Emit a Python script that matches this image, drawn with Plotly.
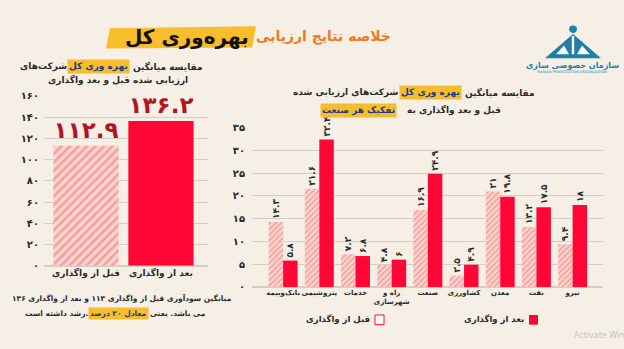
import plotly.graph_objects as go

W, H = 624, 349

# Overall total-productivity comparison (left panel)
overall_labels = ["قبل از واگذاری", "بعد از واگذاری"]
overall_values = [112.9, 136.2]
overall_ticks = [0, 20, 40, 60, 80, 100, 120, 140, 160]

# Per-industry comparison (right panel)
industries = ["بانک‌وبیمه", "پتروشیمی", "خدمات", "راه و<br>شهرسازی", "صنعت",
              "کشاورزی", "معدن", "نفت", "نیرو"]
before_values = [14.3, 21.6, 7.2, 4.8, 16.9, 2.5, 21, 13.2, 9.4]
after_values = [5.8, 32.4, 6.8, 6, 24.9, 4.9, 19.8, 17.5, 18]
industry_ticks = [0, 5, 10, 15, 20, 25, 30, 35]

FA_DIGITS = str.maketrans("0123456789", "۰۱۲۳۴۵۶۷۸۹")


def fa(v):
    return f"{v:g}".translate(FA_DIGITS)


def px(x):
    return x / W


def py(y):
    return 1 - y / H


FONT = "DejaVu Sans"
BG = "#f5efe5"
RED = "#ff0636"
HATCH_FG = "#f06a6c"
HATCH_BG = "#fcd6d1"
GRID = "#d3cec6"
DARK = "#2a2a2a"
NAVY = "#1b3a8a"
YELLOW = "#f8bd2a"
ORANGE = "#ef7a1c"
LOGO = "#1e7fa8"

fig = go.Figure()

# Left panel: overall average, one bar per period
hatched = dict(shape="/", bgcolor=HATCH_BG, fgcolor=HATCH_FG, size=6, solidity=0.45)
big_font = dict(family=FONT, size=23, color="#b3141f", weight=700)
fig.add_trace(go.Bar(
    x=[0], y=[overall_values[0]], width=0.87, offset=-0.435,
    marker=dict(color=HATCH_FG, pattern=hatched, line=dict(width=0)),
    text=[fa(overall_values[0])], textposition="outside", constraintext="none",
    cliponaxis=False, textfont=big_font, showlegend=False, xaxis="x", yaxis="y",
))
fig.add_trace(go.Bar(
    x=[1], y=[overall_values[1]], width=0.87, offset=-0.435,
    marker=dict(color=RED, line=dict(width=0)),
    text=[fa(overall_values[1])], textposition="outside", constraintext="none",
    cliponaxis=False, textfont=big_font, showlegend=False, xaxis="x", yaxis="y",
))

# Right panel: per industry
xi = list(range(len(industries)))
value_font = dict(family=FONT, size=9, color=DARK, weight=700)
fig.add_trace(go.Bar(
    x=xi, y=before_values, name="قبل از واگذاری",
    marker=dict(color=HATCH_FG,
                pattern=dict(shape="/", bgcolor=HATCH_BG, fgcolor=HATCH_FG, size=4, solidity=0.45),
                line=dict(width=0)),
    text=[fa(v) for v in before_values],
    textposition="outside", textangle=-90, constraintext="none", cliponaxis=False,
    textfont=value_font, showlegend=False, xaxis="x2", yaxis="y2",
))
fig.add_trace(go.Bar(
    x=xi, y=after_values, name="بعد از واگذاری",
    marker=dict(color=RED, line=dict(width=0)),
    text=[fa(v) for v in after_values],
    textposition="outside", textangle=-90, constraintext="none", cliponaxis=False,
    textfont=value_font, showlegend=False, xaxis="x2", yaxis="y2",
))

axis_font = dict(family=FONT, size=10, color=DARK, weight=700)

shapes = []
annotations = []


def text_width(s, size):
    return 0.56 * size * len(s)


def rtl_line(cx, y, segments, size, color=DARK):
    """Lay out a right-to-left line made of plain and highlighted segments."""
    gap = 0.55 * size
    total = sum(text_width(t, size) for t, _ in segments) + gap * (len(segments) - 1)
    cursor = cx + total / 2
    for t, hl in segments:
        d = dict(x=px(cursor), y=py(y), xref="paper", yref="paper", xanchor="right",
                 yanchor="middle", text=t, showarrow=False,
                 font=dict(family=FONT, size=size, color=NAVY if hl else color, weight=700))
        if hl:
            d.update(bgcolor=YELLOW, borderpad=1)
        annotations.append(d)
        cursor -= text_width(t, size) + gap


# Title brush and title
shapes.append(dict(type="path", xref="paper", yref="paper",
                   path=f"M {px(110)},{py(23)} L {px(256)},{py(21)} L {px(252)},{py(43)} L {px(106)},{py(44)} Z",
                   fillcolor=YELLOW, line=dict(width=0), layer="below"))
annotations.append(dict(x=px(254), y=py(32), xref="paper", yref="paper", xanchor="left", yanchor="middle",
                        text="خلاصه نتایج ارزیابی", showarrow=False,
                        font=dict(family=FONT, size=14, color=ORANGE, weight=700)))
annotations.append(dict(x=px(251), y=py(32), xref="paper", yref="paper", xanchor="right", yanchor="middle",
                        text="بهره‌وری کل", showarrow=False,
                        font=dict(family=FONT, size=20, color="#111111", weight=700)))

# Logo
shapes.append(dict(type="path", xref="paper", yref="paper",
                   path=f"M {px(545)},{py(54)} L {px(573)},{py(29)} L {px(601)},{py(54)} Z",
                   fillcolor=LOGO, line=dict(width=0)))
shapes.append(dict(type="circle", xref="paper", yref="paper",
                   x0=px(568.5), x1=px(577.5), y0=py(28.5), y1=py(19.5),
                   fillcolor=LOGO, line=dict(color=BG, width=1.2)))
shapes.append(dict(type="path", xref="paper", yref="paper",
                   path=f"M {px(571.8)},{py(31)} L {px(574.2)},{py(31)} L {px(574.2)},{py(50)} L {px(571.8)},{py(50)} Z",
                   fillcolor="white", line=dict(width=0)))
shapes.append(dict(type="path", xref="paper", yref="paper",
                   path=f"M {px(556)},{py(50)} L {px(564)},{py(41)} L {px(569)},{py(50)} Z",
                   fillcolor="white", line=dict(width=0)))
shapes.append(dict(type="path", xref="paper", yref="paper",
                   path=f"M {px(577)},{py(50)} L {px(582)},{py(41)} L {px(590)},{py(50)} Z",
                   fillcolor="white", line=dict(width=0)))
annotations.append(dict(x=px(572), y=py(62), xref="paper", yref="paper", xanchor="center", yanchor="middle",
                        text="سازمان خصوصی سازی", showarrow=False,
                        font=dict(family=FONT, size=8, color=LOGO, weight=700)))
annotations.append(dict(x=px(572), y=py(68.5), xref="paper", yref="paper", xanchor="center", yanchor="middle",
                        text="IRANIAN PRIVATIZATION ORGANIZATION", showarrow=False,
                        font=dict(family=FONT, size=3.5, color=LOGO)))

# Left panel subtitle
rtl_line(117, 63, [("مقایسه میانگین", False), ("بهره وری کل", True), ("شرکت‌های", False)], 9)
rtl_line(117, 77, [("ارزیابی شده قبل و بعد واگذاری", False)], 9)

# Right panel subtitle
rtl_line(419, 90, [("مقایسه میانگین", False), ("بهره وری کل", True), ("شرکت‌های ارزیابی شده", False)], 9)
rtl_line(417, 108, [("قبل و بعد واگذاری به", False), ("تفکیک هر صنعت", True)], 9)

# Left panel footnote
rtl_line(118, 302, [("میانگین سودآوری قبل از واگذاری ۱۱۳ و بعد از واگذاری ۱۳۶", False)], 7.5)
rtl_line(120, 318, [("می باشد. یعنی", False), ("معادل ۲۰ درصد", True), ("رشد داشته است.", False)], 7.5)

# Right panel legend
shapes.append(dict(type="rect", xref="paper", yref="paper",
                   x0=px(529), x1=px(538), y0=py(330), y1=py(320),
                   fillcolor=RED, line=dict(width=0)))
annotations.append(dict(x=px(526), y=py(325), xref="paper", yref="paper", xanchor="right", yanchor="middle",
                        text="بعد از واگذاری", showarrow=False,
                        font=dict(family=FONT, size=8.5, color=DARK, weight=700)))
shapes.append(dict(type="rect", xref="paper", yref="paper",
                   x0=px(375), x1=px(384), y0=py(330), y1=py(320),
                   fillcolor="white", line=dict(color=RED, width=1)))
annotations.append(dict(x=px(372), y=py(325), xref="paper", yref="paper", xanchor="right", yanchor="middle",
                        text="قبل از واگذاری", showarrow=False,
                        font=dict(family=FONT, size=8.5, color=DARK, weight=700)))

# Screen watermark
annotations.append(dict(x=px(572), y=py(341), xref="paper", yref="paper", xanchor="left", yanchor="middle",
                        text="Activate Windows", showarrow=False,
                        font=dict(family=FONT, size=8, color="#c4c4c4")))

fig.update_layout(
    width=W, height=H,
    margin=dict(l=0, r=0, t=0, b=0),
    paper_bgcolor=BG, plot_bgcolor="rgba(0,0,0,0)",
    barmode="group", bargap=0.2, bargroupgap=0.0,
    shapes=shapes, annotations=annotations,
    xaxis=dict(domain=[px(44), px(208)], range=[-0.56, 1.627], tickangle=0,
               tickvals=[0, 1], ticktext=overall_labels,
               tickfont=dict(family=FONT, size=9, color=DARK, weight=700),
               showgrid=False, zeroline=False, showline=False, ticks=""),
    yaxis=dict(domain=[py(269), py(93)], range=[0, 160],
               tickvals=overall_ticks, ticktext=[fa(v) for v in overall_ticks], tickfont=axis_font,
               showgrid=True, gridcolor=GRID, gridwidth=1, zeroline=True, zerolinecolor=GRID,
               showline=False, ticks="", ticklabelstandoff=4),
    xaxis2=dict(domain=[px(252), px(603)], range=[-0.86, 8.84], anchor="y2", tickangle=0,
                tickvals=xi, ticktext=industries,
                tickfont=dict(family=FONT, size=7, color=DARK, weight=700),
                showgrid=False, zeroline=False, showline=False, ticks=""),
    yaxis2=dict(domain=[py(291), py(126)], range=[0, 35], anchor="x2",
                tickvals=industry_ticks, ticktext=[fa(v) for v in industry_ticks], tickfont=axis_font,
                showgrid=True, gridcolor=GRID, gridwidth=1, zeroline=True, zerolinecolor=GRID,
                showline=False, ticks="", ticklabelstandoff=6),
)

fig.write_html("out.html")
